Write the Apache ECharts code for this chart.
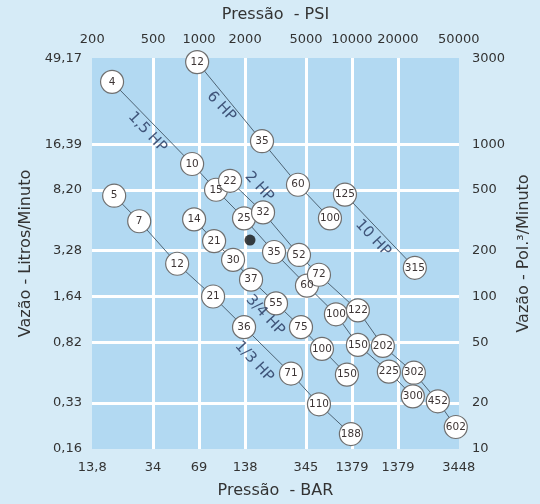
<!DOCTYPE html>
<html><head><meta charset="utf-8">
<script src="https://cdn.jsdelivr.net/npm/echarts@6/dist/echarts.min.js"></script>
<style>html,body{margin:0;padding:0;background:#d6ebf7}#c{width:540px;height:504px}</style>
</head><body><div id="c"></div>
<script>
// Axis ticks and labels (x in bar, y in cubic inches per minute)
const barTicks = [13.8, 34.5, 69, 138, 345, 690, 1379, 3448];
const barLabels = ['13,8', '34', '69', '138', '345', '1379', '1379', '3448'];
const psiLabels = ['200', '500', '1000', '2000', '5000', '10000', '20000', '50000'];
const flowTicks = [10, 20, 50, 100, 200, 500, 1000, 3670];
const lpmLabels = ['0,16', '0,33', '0,82', '1,64', '3,28', '8,20', '16,39', '49,17'];
const cuinLabels = ['10', '20', '50', '100', '200', '500', '1000', '3000'];

// 1/3 HP
const hp13Press = [19.2, 28.0, 49.6, 85.2, 135.8, 275.5, 419.8, 679];
const hp13Flow = [459, 312, 164, 100, 62.9, 31.2, 19.6, 12.5];
const hp13Nodes = ['5', '7', '12', '21', '36', '71', '110', '188'];
// 3/4 HP
const hp34Press = [64.0, 86.5, 115.1, 150.9, 219.8, 320.2, 439.1, 639.6];
const hp34Flow = [321, 231, 174, 129, 90.1, 62.9, 45.3, 30.7];
const hp34Nodes = ['14', '21', '30', '37', '55', '75', '100', '150'];
// 1,5 HP
const hp15Press = [18.6, 62.1, 89.1, 135.8, 213.4, 350.4, 542, 754.7, 1203, 1726];
const hp15Flow = [2566, 741, 502, 326, 196, 117.9, 76.4, 48.1, 32.1, 22.1];
const hp15Nodes = ['4', '10', '15', '25', '35', '60', '100', '150', '225', '300'];
// 2 HP
const hp2Press = [110.0, 180.8, 310.7, 419.8, 754.7, 1099, 1753, 2515, 3297];
const hp2Flow = [575, 356.5, 187.4, 138.9, 81.1, 47.4, 31.6, 20.5, 13.9];
const hp2Nodes = ['22', '32', '52', '72', '122', '202', '302', '452', '602'];
// 6 HP
const hp6Press = [67.0, 178.0, 306.1, 495.3];
const hp6Flow = [3459, 1046, 541.7, 326];
const hp6Nodes = ['12', '35', '60', '100'];
// 10 HP
const hp10Press = [620.7, 1779];
const hp10Flow = [466.6, 154.3];
const hp10Nodes = ['125', '315'];
// example point
const dotPress = [148.6];
const dotFlow = [234.5];
// curve names
const curveText = ['1,5 HP', '6 HP', '2 HP', '10 HP', '3/4 HP', '1/3 HP'];
const curveTextPress = [31.6, 96.1, 170.3, 945.6, 186.3, 157.9];
const curveTextFlow = [1197, 1765, 525.8, 241.6, 75.3, 37.3];

const groups = [
  [hp13Press, hp13Flow, hp13Nodes],
  [hp34Press, hp34Flow, hp34Nodes],
  [hp15Press, hp15Flow, hp15Nodes],
  [hp2Press, hp2Flow, hp2Nodes],
  [hp6Press, hp6Flow, hp6Nodes],
  [hp10Press, hp10Flow, hp10Nodes]
];

function zip(a, b) { return a.map((v, i) => [v, b[i]]); }
function lab(ticks, labels, v) {
  let best = 0, d = Infinity;
  ticks.forEach((t, i) => { const dd = Math.abs(Math.log(t) - Math.log(v)); if (dd < d) { d = dd; best = i; } });
  return labels[best];
}

const FONT = 'DejaVu Sans';
const tickText = { color: '#333', fontSize: 13, fontFamily: FONT };
const nameText = { color: '#333', fontSize: 16, fontFamily: FONT };

function xAx(pos, labels, name, split) {
  return {
    type: 'log', position: pos, min: 13.75, max: 3460,
    name: name, nameLocation: 'middle', nameGap: pos === 'top' ? 35 : 34, nameTextStyle: nameText,
    axisLine: { show: false },
    axisTick: { show: false, customValues: barTicks },
    axisLabel: Object.assign({ customValues: barTicks, margin: 12, formatter: v => lab(barTicks, labels, v) }, tickText),
    splitLine: { show: split, showMinLine: false, showMaxLine: false, lineStyle: { color: '#ffffff', width: 3 } }
  };
}
function yAx(pos, labels, name, split) {
  return {
    type: 'log', position: pos, min: 9.97, max: 3680,
    name: name, nameLocation: 'middle', nameGap: 52, nameRotate: 90, nameTextStyle: nameText,
    axisLine: { show: false },
    axisTick: { show: false, customValues: flowTicks },
    axisLabel: Object.assign({ customValues: flowTicks, margin: pos === 'left' ? 10 : 13, formatter: v => lab(flowTicks, labels, v) }, tickText),
    splitLine: { show: split, showMinLine: false, showMaxLine: false, lineStyle: { color: '#ffffff', width: 3 } }
  };
}

const series = [];
groups.forEach(g => {
  series.push({
    type: 'line', data: zip(g[0], g[1]), symbol: 'none', silent: true, z: 2,
    lineStyle: { color: '#4e6475', width: 1 }
  });
});
groups.forEach(g => {
  const nodes = g[2];
  series.push({
    type: 'scatter', data: zip(g[0], g[1]), symbol: 'circle', symbolSize: 23, z: 3,
    itemStyle: { color: '#ffffff', borderColor: '#6f6f6f', borderWidth: 1.2, opacity: 1 },
    label: { show: true, position: 'inside', formatter: p => nodes[p.dataIndex], color: '#3d3535', fontSize: 10.5, fontFamily: FONT }
  });
});
series.push({
  type: 'scatter', data: zip(dotPress, dotFlow), symbol: 'circle', symbolSize: 11, z: 3,
  itemStyle: { color: '#111111' }
});
series.push({
  type: 'scatter', data: zip(curveTextPress, curveTextFlow), symbolSize: 0, z: 4,
  label: { show: true, position: 'inside', rotate: -47, formatter: p => curveText[p.dataIndex], color: '#22325a', fontSize: 15, fontFamily: FONT }
});

const chart = echarts.init(document.getElementById('c'), null, { renderer: 'canvas' });
chart.setOption({
  animation: false,
  backgroundColor: '#d6ebf7',
  grid: { left: 92, right: 81, top: 58, bottom: 52, show: true, backgroundColor: '#b2d9f2', borderWidth: 0, containLabel: false },
  xAxis: [xAx('bottom', barLabels, 'Pressão  - BAR', true), xAx('top', psiLabels, 'Pressão  - PSI', false)],
  yAxis: [yAx('left', lpmLabels, 'Vazão - Litros/Minuto', true), yAx('right', cuinLabels, 'Vazão - Pol.³/Minuto', false)],
  series: series
});
</script></body></html>
